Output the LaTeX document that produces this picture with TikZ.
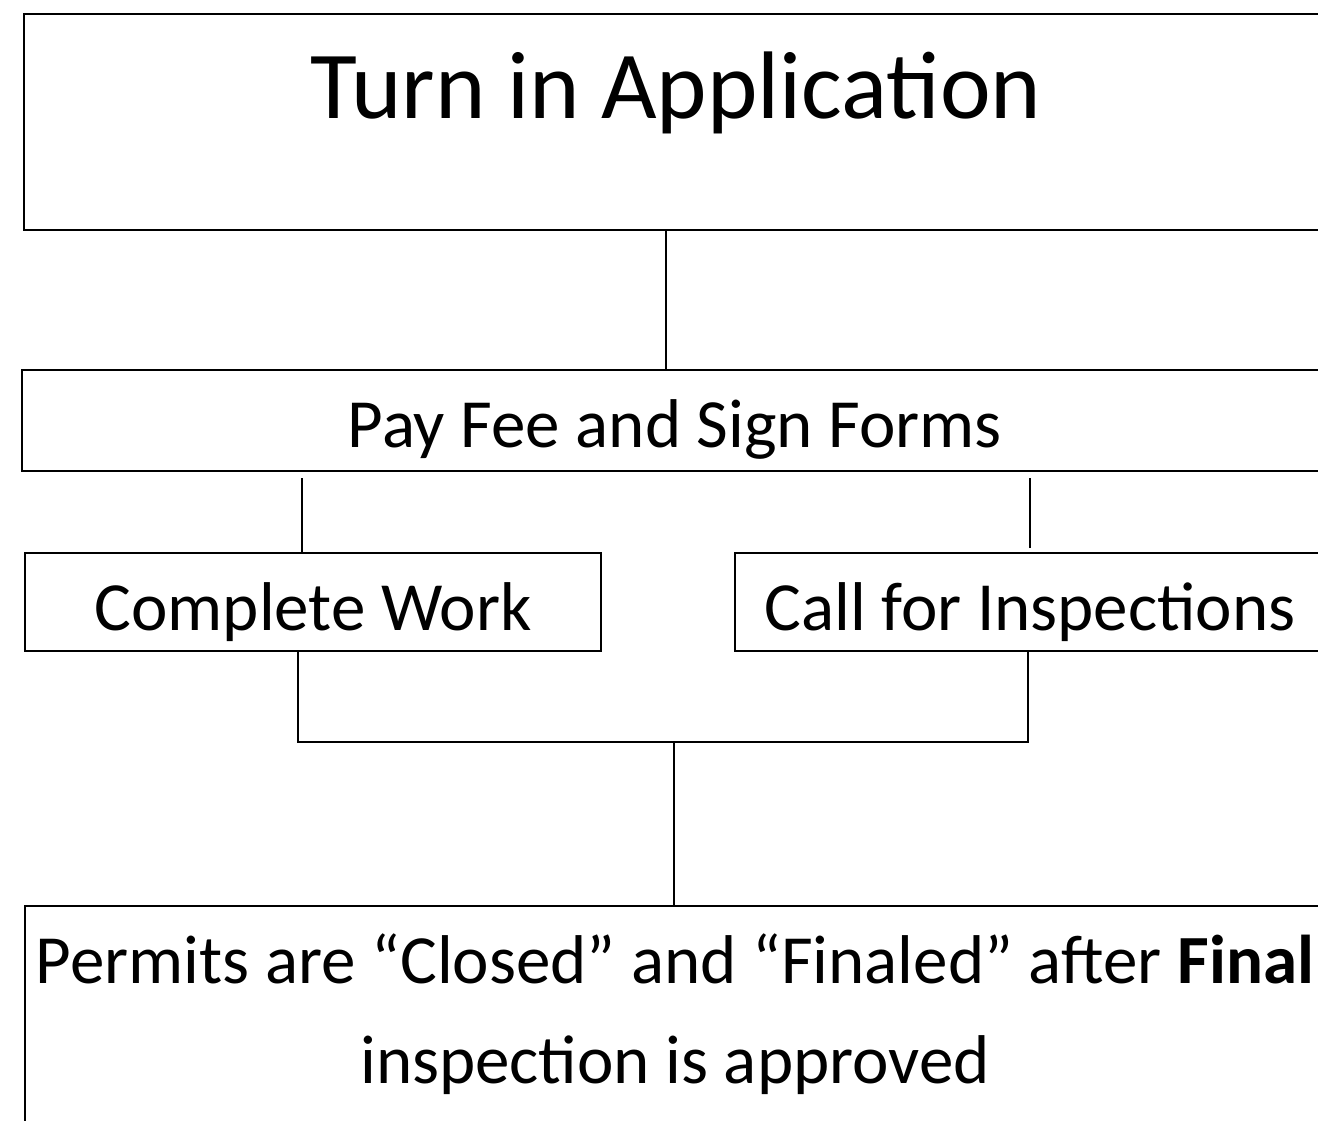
\documentclass[tikz,border=0pt]{standalone}
\usepackage{fontspec}
\setmainfont{Carlito}
\usetikzlibrary{positioning}
\tikzset{
  stepbox/.style={draw=black, line width=2pt, rectangle, inner sep=0pt, font=\fontsize{69}{98}\selectfont},
  link/.style={draw=black, line width=1.6pt},
}

\begin{document}
\begin{tikzpicture}[x=1pt,y=-1pt]
  \useasboundingbox (0,0) rectangle (1318,1120);
  \clip (0,0) rectangle (1318,1120);
  % boxes
  \node[stepbox, minimum width=1304pt, minimum height=216pt, text height=70pt, text depth=78pt, font=\fontsize{96}{110}\selectfont] (apply) at (676,122) {Turn in Application};
  \node[stepbox, minimum width=1306pt, minimum height=101pt, text height=53pt, text depth=0pt] (pay)  at (675,420.5) {Pay Fee and Sign Forms};
  \node[stepbox, minimum width=576pt,  minimum height=98pt,  text height=56pt, text depth=0pt] (work) at (313,602) {Complete Work};
  \node[stepbox, minimum width=590pt,  minimum height=98pt,  text height=56pt, text depth=0pt] (call) at (1030,602) {Call for Inspections};
  \node[stepbox, anchor=north west, align=center, minimum width=1300pt, inner ysep=28pt, text depth=100pt] (final) at (24,905)
       {Permits are “Closed” and “Finaled” after \textbf{Final}\\[2pt] inspection is approved};
  % connectors
  \coordinate (applyFoot) at ([xshift=-10pt]apply.south);
  \coordinate (workTop)   at ([xshift=-11pt]work.north);
  \coordinate (workFoot)  at ([xshift=-15pt]work.south);
  \coordinate (callFoot)  at ([xshift=-2pt]call.south);
  \coordinate (split)     at (674,742);
  \draw[link] (applyFoot) -- (applyFoot |- pay.north);
  \draw[link, shorten >=6pt] (workTop) -- (workTop |- pay.south);
  \draw[link, shorten <=4pt, shorten >=6pt] (call.north) -- (call.north |- pay.south);
  \draw[link] (workFoot) |- (split) -| (callFoot);
  \draw[link] (split) -- (split |- final.north);
\end{tikzpicture}
\end{document}
